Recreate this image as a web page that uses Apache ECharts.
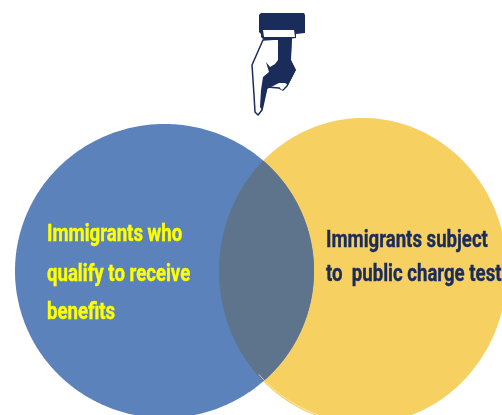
<!DOCTYPE html>
<html><head><meta charset="utf-8">
<style>html,body{margin:0;padding:0;background:#fff}#c{width:502px;height:415px}</style>
<script src="https://cdn.jsdelivr.net/npm/echarts@6/dist/echarts.min.js"></script>
</head><body><div id="c"></div>
<script>
const circleNames = ['Immigrants who qualify to receive benefits', 'Immigrants subject to public charge test'];
const centerX = [164.5, 363];
const centerY = [271, 271];
const radiiX = [149.5, 144];
const radiiY = [147, 153];
const circleColors = ['#5c82bc', '#f7d062'];
const overlapColor = '#5e748c';
const leftLines = ['Immigrants who', 'qualify to receive', 'benefits'];
const rightLines = ['Immigrants subject', 'to  public charge test'];
const NAVY = '#1a2c5a', YEL = '#ffff00';
const FONT = '"Roboto",sans-serif';

const chart = echarts.init(document.getElementById('c'), null, {renderer:'canvas'});

function edgeX(i, dy, sign){
  const t = 1 - (dy*dy)/(radiiY[i]*radiiY[i]);
  return t < 0 ? null : centerX[i] + sign*radiiX[i]*Math.sqrt(t);
}
function lensPoints(api){
  const right = [], left = [];
  for(let y = 100; y <= 440; y += 0.5){
    const dy = y - centerY[0];
    const a = edgeX(0, dy, 1), b = edgeX(1, dy, -1);
    if(a === null || b === null || a <= b) continue;
    right.push(api.coord([a, y]));
    left.unshift(api.coord([b, y]));
  }
  return right.concat(left);
}
function ellipse(i, api, rx, ry, a0, a1){
  const pts = [];
  for(let a = a0; a <= a1; a += 1){
    const r = a*Math.PI/180;
    pts.push(api.coord([centerX[i]+rx*Math.cos(r), centerY[i]+ry*Math.sin(r)]));
  }
  return pts;
}

const texts = [];
function addText(str, x, y, fill, sx){
  texts.push({type:'text',z:20,x:x,y:y,scaleX:sx,scaleY:1,
    style:{text:str,fill:fill,stroke:fill,lineWidth:0.4,font:'bold 24px '+FONT,verticalAlign:'middle'}});
}
[[47,235],[47,275],[47,313]].forEach((p,i)=>addText(leftLines[i],p[0],p[1],YEL,0.775));
[[326,241],[326,275]].forEach((p,i)=>addText(rightLines[i],p[0],p[1],NAVY,0.775));

const handParts = [
 {pts:[[263,40],[252,65],[254,95],[255,112],[258,115],[262,110],[267,87],[279,88],[283,90],[287,86],[295,70],[290,60],[291,38]], fill:'#ffffff', stroke:NAVY, lw:1.5},
 {pts:[[278,38],[292,38],[291,60],[296,70],[288,85],[285,83],[279,83],[267,89],[262,110],[260,107],[261,90],[263,77],[269,72],[266,62],[270,67],[275,64],[278,60]], fill:NAVY},
 {pts:[[259,15],[261,13],[304,13],[305,15],[305,33],[296,34],[296,38],[278,40],[264,40],[261,37],[261,34],[259,32]], fill:NAVY},
 {pts:[[263,30],[294,30],[295,37],[264,37]], fill:'#ffffff'},
 {pts:[[280,83],[284,83],[284,88],[282,90],[280,88]], fill:'#ffffff'}
];
const handEls = handParts.map(h=>({type:'polygon',z:15,shape:{points:h.pts},
  style:{fill:h.fill,stroke:h.stroke||null,lineWidth:h.lw||0,lineJoin:'round'}}));

chart.setOption({
  animation:false,
  backgroundColor:'#ffffff',
  grid:{left:0,right:0,top:0,bottom:0},
  xAxis:{type:'value',min:0,max:502,show:false},
  yAxis:{type:'value',min:0,max:415,inverse:true,show:false},
  graphic:{elements:handEls.concat(texts)},
  series:[{
    type:'custom',
    coordinateSystem:'cartesian2d',
    clip:true,
    data:[[1],[0],[2],[3]],
    encode:{x:0},
    renderItem(params,api){
      const i = api.value(0);
      if(i===2) return {type:'polygon',shape:{points:lensPoints(api)},style:{fill:overlapColor}};
      if(i===3) return {type:'polyline',shape:{points:ellipse(1,api,radiiX[1]-1.5,radiiY[1]-1.5,100,137)},
        style:{fill:null,stroke:'#fff2c8',lineWidth:0.7}};
      return {type:'polygon',name:circleNames[i],shape:{points:ellipse(i,api,radiiX[i],radiiY[i],0,360)},
        style:{fill:circleColors[i]}};
    }
  }]
});
</script></body></html>
